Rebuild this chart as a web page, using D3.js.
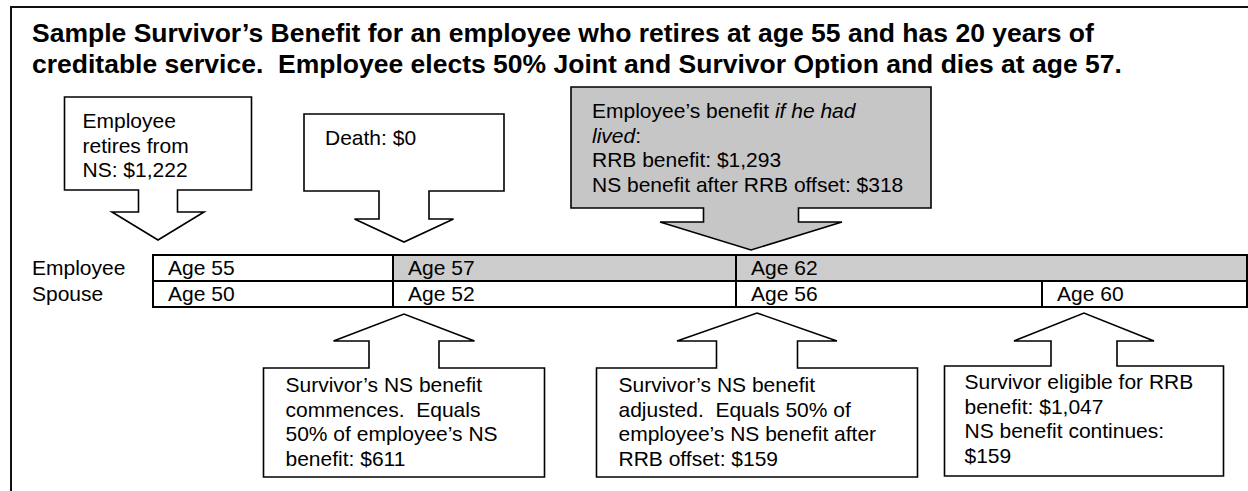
<!DOCTYPE html>
<html>
<head>
<meta charset="utf-8">
<script src="https://cdn.jsdelivr.net/npm/d3@7"></script>
<style>
  html, body { margin: 0; padding: 0; background: #fff; }
  svg { display: block; }
  text { font-family: Arial, "Liberation Sans", sans-serif; fill: #000; white-space: pre; }
</style>
</head>
<body>
<svg id="chart"></svg>
<script>
const WIDTH = 1248;
const HEIGHT = 491;

// --- data ---
const titleLines = [
  "Sample Survivor’s Benefit for an employee who retires at age 55 and has 20 years of",
  "creditable service.  Employee elects 50% Joint and Survivor Option and dies at age 57."
];

const rowNames = ["Employee", "Spouse"];
// milestone index where each cell starts
const employeeCells = ["Age 55", "Age 57", "Age 62"];
const employeeShaded = [false, true, true];
const spouseCells = ["Age 50", "Age 52", "Age 56", "Age 60"];

// callouts: which milestone they point at, direction, shading and text lines
// each line is a list of [text, italic]
const calloutAt = [0, 1, 2, 1, 2, 3];
const calloutDir = ["down", "down", "down", "up", "up", "up"];
const calloutShaded = [false, false, true, false, false, false];
const calloutText = [
  [[["Employee", 0]], [["retires from", 0]], [["NS: $1,222", 0]]],
  [[["Death: $0", 0]]],
  [[["Employee’s benefit ", 0], ["if he had", 1]], [["lived", 1], [":", 0]],
   [["RRB benefit: $1,293", 0]], [["NS benefit after RRB offset: $318", 0]]],
  [[["Survivor’s NS benefit", 0]], [["commences.  Equals", 0]],
   [["50% of employee’s NS", 0]], [["benefit: $611", 0]]],
  [[["Survivor’s NS benefit", 0]], [["adjusted.  Equals 50% of", 0]],
   [["employee’s NS benefit after", 0]], [["RRB offset: $159", 0]]],
  [[["Survivor eligible for RRB", 0]], [["benefit: $1,047", 0]],
   [["NS benefit continues:", 0]], [["$159", 0]]]
];

// --- layout (positions/sizes only) ---
const calloutLayout = [
  {nudge: 5,  w: 187, top: 97,  bottom: 190, stemEnd: 212, tipY: 240, stemW: 39, headW: 92,  padX: 18, padTop: 31},
  {nudge: 11, w: 200, top: 114, bottom: 191, stemEnd: 219, tipY: 242, stemW: 50, headW: 99,  padX: 21, padTop: 31},
  {nudge: 15, w: 360, top: 87,  bottom: 208, stemEnd: 222, tipY: 250, stemW: 95, headW: 182, padX: 21, padTop: 31},
  {nudge: 11, w: 281, top: 368, bottom: 477, stemEnd: 341, tipY: 314, stemW: 70, headW: 141, padX: 22, padTop: 24},
  {nudge: 21, w: 321, top: 368, bottom: 477, stemEnd: 341, tipY: 313, stemW: 81, headW: 160, padX: 22, padTop: 24},
  {nudge: 42, w: 279, top: 366, bottom: 476, stemEnd: 341, tipY: 313, stemW: 66, headW: 140, padX: 20, padTop: 23}
];
const LINE_H = 24.5;
const FONT = 21;

const svg = d3.select("#chart").attr("width", WIDTH).attr("height", HEIGHT);

// milestone scale (piecewise, the timeline is not to scale)
const x = d3.scaleLinear().domain([0, 1, 2, 3, 4]).range([153, 393, 736, 1042, 1247]);
const y = d3.scaleBand().domain(rowNames).range([255, 307]).padding(0);

// outer frame (open on right and bottom)
svg.append("path")
  .attr("d", `M11,${HEIGHT} V7 H${WIDTH}`)
  .attr("fill", "none").attr("stroke", "#111").attr("stroke-width", 2);

// title
svg.append("g").selectAll("text").data(titleLines).join("text")
  .attr("x", 32)
  .attr("y", (d, i) => 42 + i * 31)
  .style("font-size", "26.5px")
  .style("font-weight", "bold")
  .text(d => d);

// --- timeline ---
const tl = svg.append("g");
const rows = [
  {name: "Employee", cells: employeeCells, shaded: employeeShaded},
  {name: "Spouse", cells: spouseCells, shaded: spouseCells.map(() => false)}
];

rows.forEach(r => {
  const cells = r.cells.map((c, i) => ({
    label: c,
    x0: x(i),
    x1: i === r.cells.length - 1 ? x(4) : x(i + 1),
    shaded: r.shaded[i]
  }));
  const g = tl.append("g");
  g.selectAll("rect").data(cells).join("rect")
    .attr("x", d => d.x0)
    .attr("y", y(r.name))
    .attr("width", d => d.x1 - d.x0)
    .attr("height", y.bandwidth())
    .attr("fill", d => d.shaded ? "#cccccc" : "#fff")
    .attr("stroke", "#000")
    .attr("stroke-width", 2);
  g.selectAll("text").data(cells).join("text")
    .attr("x", d => d.x0 + 15)
    .attr("y", y(r.name) + 20)
    .style("font-size", FONT + "px")
    .text(d => d.label);
  tl.append("text")
    .attr("x", 32)
    .attr("y", y(r.name) + 20)
    .style("font-size", FONT + "px")
    .text(r.name);
});

// --- callouts ---
const callouts = calloutAt.map((m, i) => Object.assign({
  at: m, dir: calloutDir[i], shaded: calloutShaded[i], lines: calloutText[i]
}, calloutLayout[i]));

function calloutPath(d) {
  const tx = x(d.at) + d.nudge;
  const x0 = tx - d.w / 2, x1 = tx + d.w / 2;
  const s0 = tx - d.stemW / 2, s1 = tx + d.stemW / 2;
  const h0 = tx - d.headW / 2, h1 = tx + d.headW / 2;
  if (d.dir === "down") {
    return `M${x0},${d.top} H${x1} V${d.bottom} H${s1} V${d.stemEnd} H${h1} L${tx},${d.tipY} L${h0},${d.stemEnd} H${s0} V${d.bottom} H${x0} Z`;
  }
  return `M${x0},${d.top} H${s0} V${d.stemEnd} H${h0} L${tx},${d.tipY} L${h1},${d.stemEnd} H${s1} V${d.top} H${x1} V${d.bottom} H${x0} Z`;
}

const cg = svg.append("g").selectAll("g").data(callouts).join("g");

cg.append("path")
  .attr("d", calloutPath)
  .attr("fill", d => d.shaded ? "#c6c6c6" : "#fff")
  .attr("stroke", "#000")
  .attr("stroke-width", 1.6)
  .attr("stroke-linejoin", "miter");

cg.each(function(d) {
  const tx = x(d.at) + d.nudge;
  const left = tx - d.w / 2 + d.padX;
  const t = d3.select(this).append("text").style("font-size", FONT + "px");
  d.lines.forEach((line, li) => {
    line.forEach((seg, si) => {
      const sp = t.append("tspan")
        .style("font-style", seg[1] ? "italic" : "normal")
        .text(seg[0]);
      if (si === 0) sp.attr("x", left).attr("y", d.top + d.padTop + li * LINE_H);
    });
  });
});
</script>
</body>
</html>
